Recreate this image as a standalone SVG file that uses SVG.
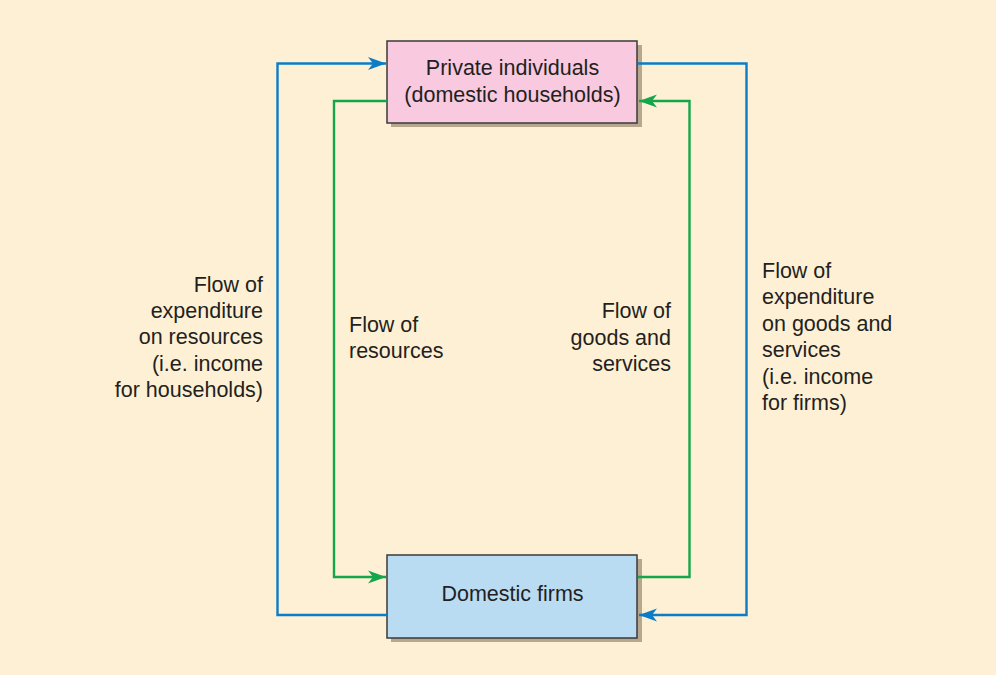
<svg xmlns="http://www.w3.org/2000/svg" width="996" height="675" viewBox="0 0 996 675">
<defs>
<style>
.lbl{font-family:"Liberation Sans",Arial,sans-serif;font-size:21.5px;fill:#231f20}
.box{stroke:#3a3a3a;stroke-width:1.5}
.shadow{fill:#b8a78f}
.blue{fill:none;stroke:#0a7cc8;stroke-width:2.4}
.green{fill:none;stroke:#13a64a;stroke-width:2.4}
</style>
<marker id="ab" markerWidth="19" markerHeight="14" viewBox="0 0 19 14" refX="18" refY="7" orient="auto" markerUnits="userSpaceOnUse">
<path d="M0,0.5 L18,7 L0,13.5 L5,7 Z" fill="#0a7cc8"/>
</marker>
<marker id="ag" markerWidth="19" markerHeight="14" viewBox="0 0 19 14" refX="18" refY="7" orient="auto" markerUnits="userSpaceOnUse">
<path d="M0,0.5 L18,7 L0,13.5 L5,7 Z" fill="#13a64a"/>
</marker>
</defs>
<rect width="996" height="675" fill="#fef0d5"/>
<g id="households">
<rect class="shadow" x="391" y="45" width="251" height="82"/>
<rect class="box" x="387" y="41" width="250" height="82" fill="#f8c9df"/>
<text class="lbl" x="512.5" y="74.5" text-anchor="middle">Private individuals</text>
<text class="lbl" x="512.5" y="101.5" text-anchor="middle">(domestic households)</text>
</g>
<g id="firms">
<rect class="shadow" x="391" y="559" width="251" height="83"/>
<rect class="box" x="387" y="555" width="250" height="83" fill="#badcf3"/>
<text class="lbl" x="512.5" y="601" text-anchor="middle">Domestic firms</text>
</g>
<g id="connectors">
<path class="blue" d="M387,615 H277.5 V63.5 H386" marker-end="url(#ab)"/>
<path class="green" d="M387,101 H334 V577 H386" marker-end="url(#ag)"/>
<path class="green" d="M637.8,577 H689.5 V101 H639" marker-end="url(#ag)"/>
<path class="blue" d="M637.8,63.5 H746.5 V615 H639" marker-end="url(#ab)"/>
</g>
<g id="label-left" class="lbl" text-anchor="end">
<text x="263" y="291.5">Flow of</text>
<text x="263" y="318">expenditure</text>
<text x="263" y="344">on resources</text>
<text x="263" y="370.5">(i.e. income</text>
<text x="263" y="396.5">for households)</text>
</g>
<g id="label-resources" class="lbl">
<text x="349" y="331.5">Flow of</text>
<text x="349" y="358">resources</text>
</g>
<g id="label-goods" class="lbl" text-anchor="end">
<text x="671" y="318">Flow of</text>
<text x="671" y="345">goods and</text>
<text x="671" y="371">services</text>
</g>
<g id="label-right" class="lbl">
<text x="762" y="277.5">Flow of</text>
<text x="762" y="304">expenditure</text>
<text x="762" y="330.5">on goods and</text>
<text x="762" y="357">services</text>
<text x="762" y="383.5">(i.e. income</text>
<text x="762" y="410">for firms)</text>
</g>
</svg>
